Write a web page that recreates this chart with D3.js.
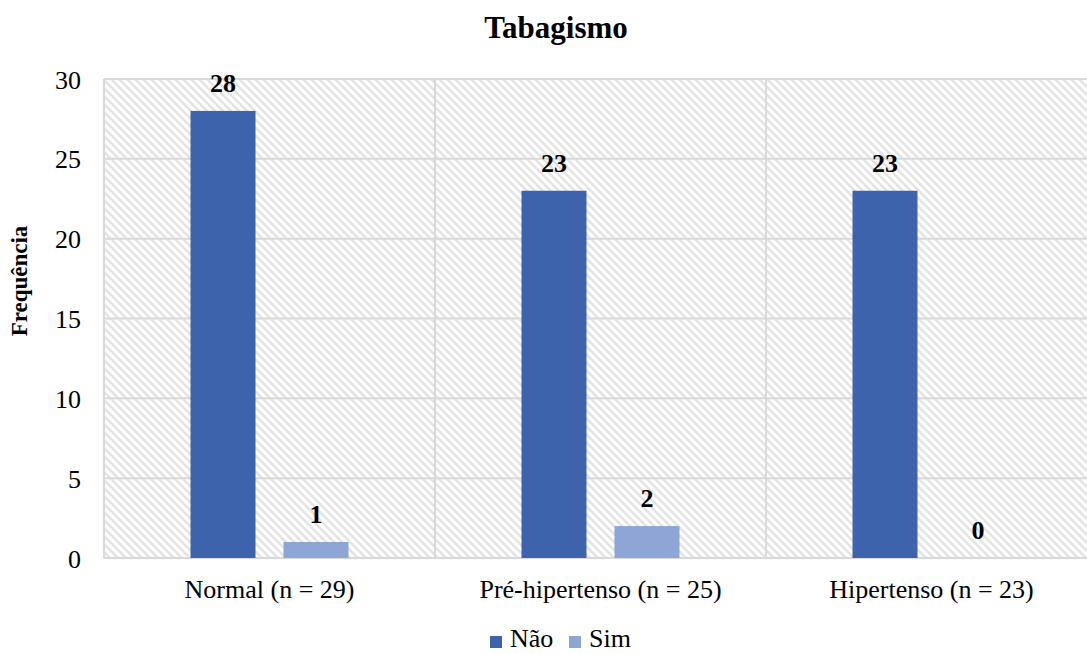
<!DOCTYPE html>
<html>
<head>
<meta charset="utf-8">
<script src="https://cdn.jsdelivr.net/npm/d3@7"></script>
</head>
<body style="margin:0;background:#fff">
<svg id="chart" width="1087" height="654"></svg>
<script>
// Smoking status by blood-pressure group
const categories = ["Normal (n = 29)", "Pré-hipertenso (n = 25)", "Hipertenso (n = 23)"];
const seriesNames = ["Não", "Sim"];
const naoValues = [28, 23, 23];
const simValues = [1, 2, 0];
const yTicks = [0, 5, 10, 15, 20, 25, 30];
const colors = ["#3C63AB", "#8EA5D5"];

const FONT = "Liberation Serif";
const svg = d3.select("#chart");
const plot = { left: 104, right: 1097, top: 79, bottom: 558 };

// hatched background
const defs = svg.append("defs");
const pat = defs.append("pattern")
  .attr("id", "hatch")
  .attr("patternUnits", "userSpaceOnUse")
  .attr("width", 8).attr("height", 8);
pat.append("rect").attr("width", 8).attr("height", 8).attr("fill", "#fff");
pat.append("path")
  .attr("d", "M-2,-2 L10,10 M-2,6 L2,10 M6,-2 L10,2")
  .attr("stroke", "#e3e3e3").attr("stroke-width", 2.4);

const x0 = d3.scaleBand().domain(categories).range([plot.left, plot.right]).padding(0);
const y = d3.scaleLinear().domain([0, 30]).range([plot.bottom, plot.top]);

svg.append("rect")
  .attr("x", plot.left).attr("y", plot.top)
  .attr("width", plot.right - plot.left).attr("height", plot.bottom - plot.top)
  .attr("fill", "url(#hatch)");

// gridlines
svg.append("g").selectAll("line").data(yTicks).join("line")
  .attr("x1", plot.left).attr("x2", plot.right)
  .attr("y1", d => y(d)).attr("y2", d => y(d))
  .attr("stroke", "#d9d9d9").attr("stroke-width", 2);
svg.append("g").selectAll("line").data(categories).join("line")
  .attr("x1", d => x0(d)).attr("x2", d => x0(d))
  .attr("y1", plot.top).attr("y2", plot.bottom)
  .attr("stroke", "#d9d9d9").attr("stroke-width", 2);

// text helper
function serif(sel, size, bold) {
  sel.style("font-family", FONT)
     .style("font-size", size + "px")
     .style("font-weight", bold ? "bold" : "normal")
     .style("fill", "#000");
  return sel;
}

// y axis labels
const yAxis = d3.axisLeft(y).tickValues(yTicks).tickSize(0).tickPadding(0);
const gy = svg.append("g").attr("transform", "translate(81,0)").call(yAxis);
gy.attr("font-family", null).attr("font-size", null);
gy.select(".domain").remove();
gy.selectAll("text").attr("dy", null).attr("y", 9).call(serif, 26, false);

// x axis labels
const xAxis = d3.axisBottom(x0).tickSize(0).tickPadding(0);
const gx = svg.append("g").attr("transform", `translate(0,${plot.bottom})`).call(xAxis);
gx.attr("font-family", null).attr("font-size", null);
gx.select(".domain").remove();
gx.selectAll("text").attr("dy", null).attr("y", 40).call(serif, 26, false);

// bars
const barW = 65, gap = 28;
const x1 = d3.scaleOrdinal().domain(seriesNames).range([-(gap / 2 + barW), gap / 2]);
const rows = categories.map((c, i) => ({ c, vals: [naoValues[i], simValues[i]] }));

const groups = svg.append("g").selectAll("g").data(rows).join("g")
  .attr("transform", d => `translate(${x0(d.c) + x0.bandwidth() / 2},0)`);

const cells = d => d.vals.map((v, j) => ({ s: seriesNames[j], v, j }));

groups.selectAll("rect").data(cells).join("rect")
  .attr("x", d => x1(d.s))
  .attr("y", d => y(d.v))
  .attr("width", barW)
  .attr("height", d => y(0) - y(d.v))
  .attr("fill", d => colors[d.j]);

groups.selectAll("text").data(cells).join("text")
  .attr("x", d => x1(d.s) + barW / 2)
  .attr("y", d => y(d.v) - 19)
  .attr("text-anchor", "middle")
  .call(serif, 26, true)
  .text(d => d.v);

// title
svg.append("text")
  .attr("x", 556).attr("y", 38)
  .attr("text-anchor", "middle")
  .call(serif, 31, true)
  .text("Tabagismo");

// y axis title
svg.append("text")
  .attr("transform", "translate(27,281) rotate(-90)")
  .attr("text-anchor", "middle")
  .call(serif, 23, true)
  .text("Frequência");

// legend
const legend = svg.append("g").attr("transform", "translate(490,647)");
const legendX = [0, 79];
seriesNames.forEach((s, i) => {
  legend.append("rect").attr("x", legendX[i]).attr("y", -11)
    .attr("width", 12).attr("height", 12).attr("fill", colors[i]);
  legend.append("text").attr("x", legendX[i] + 20).attr("y", 0)
    .call(serif, 26, false).text(s);
});
</script>
</body>
</html>
